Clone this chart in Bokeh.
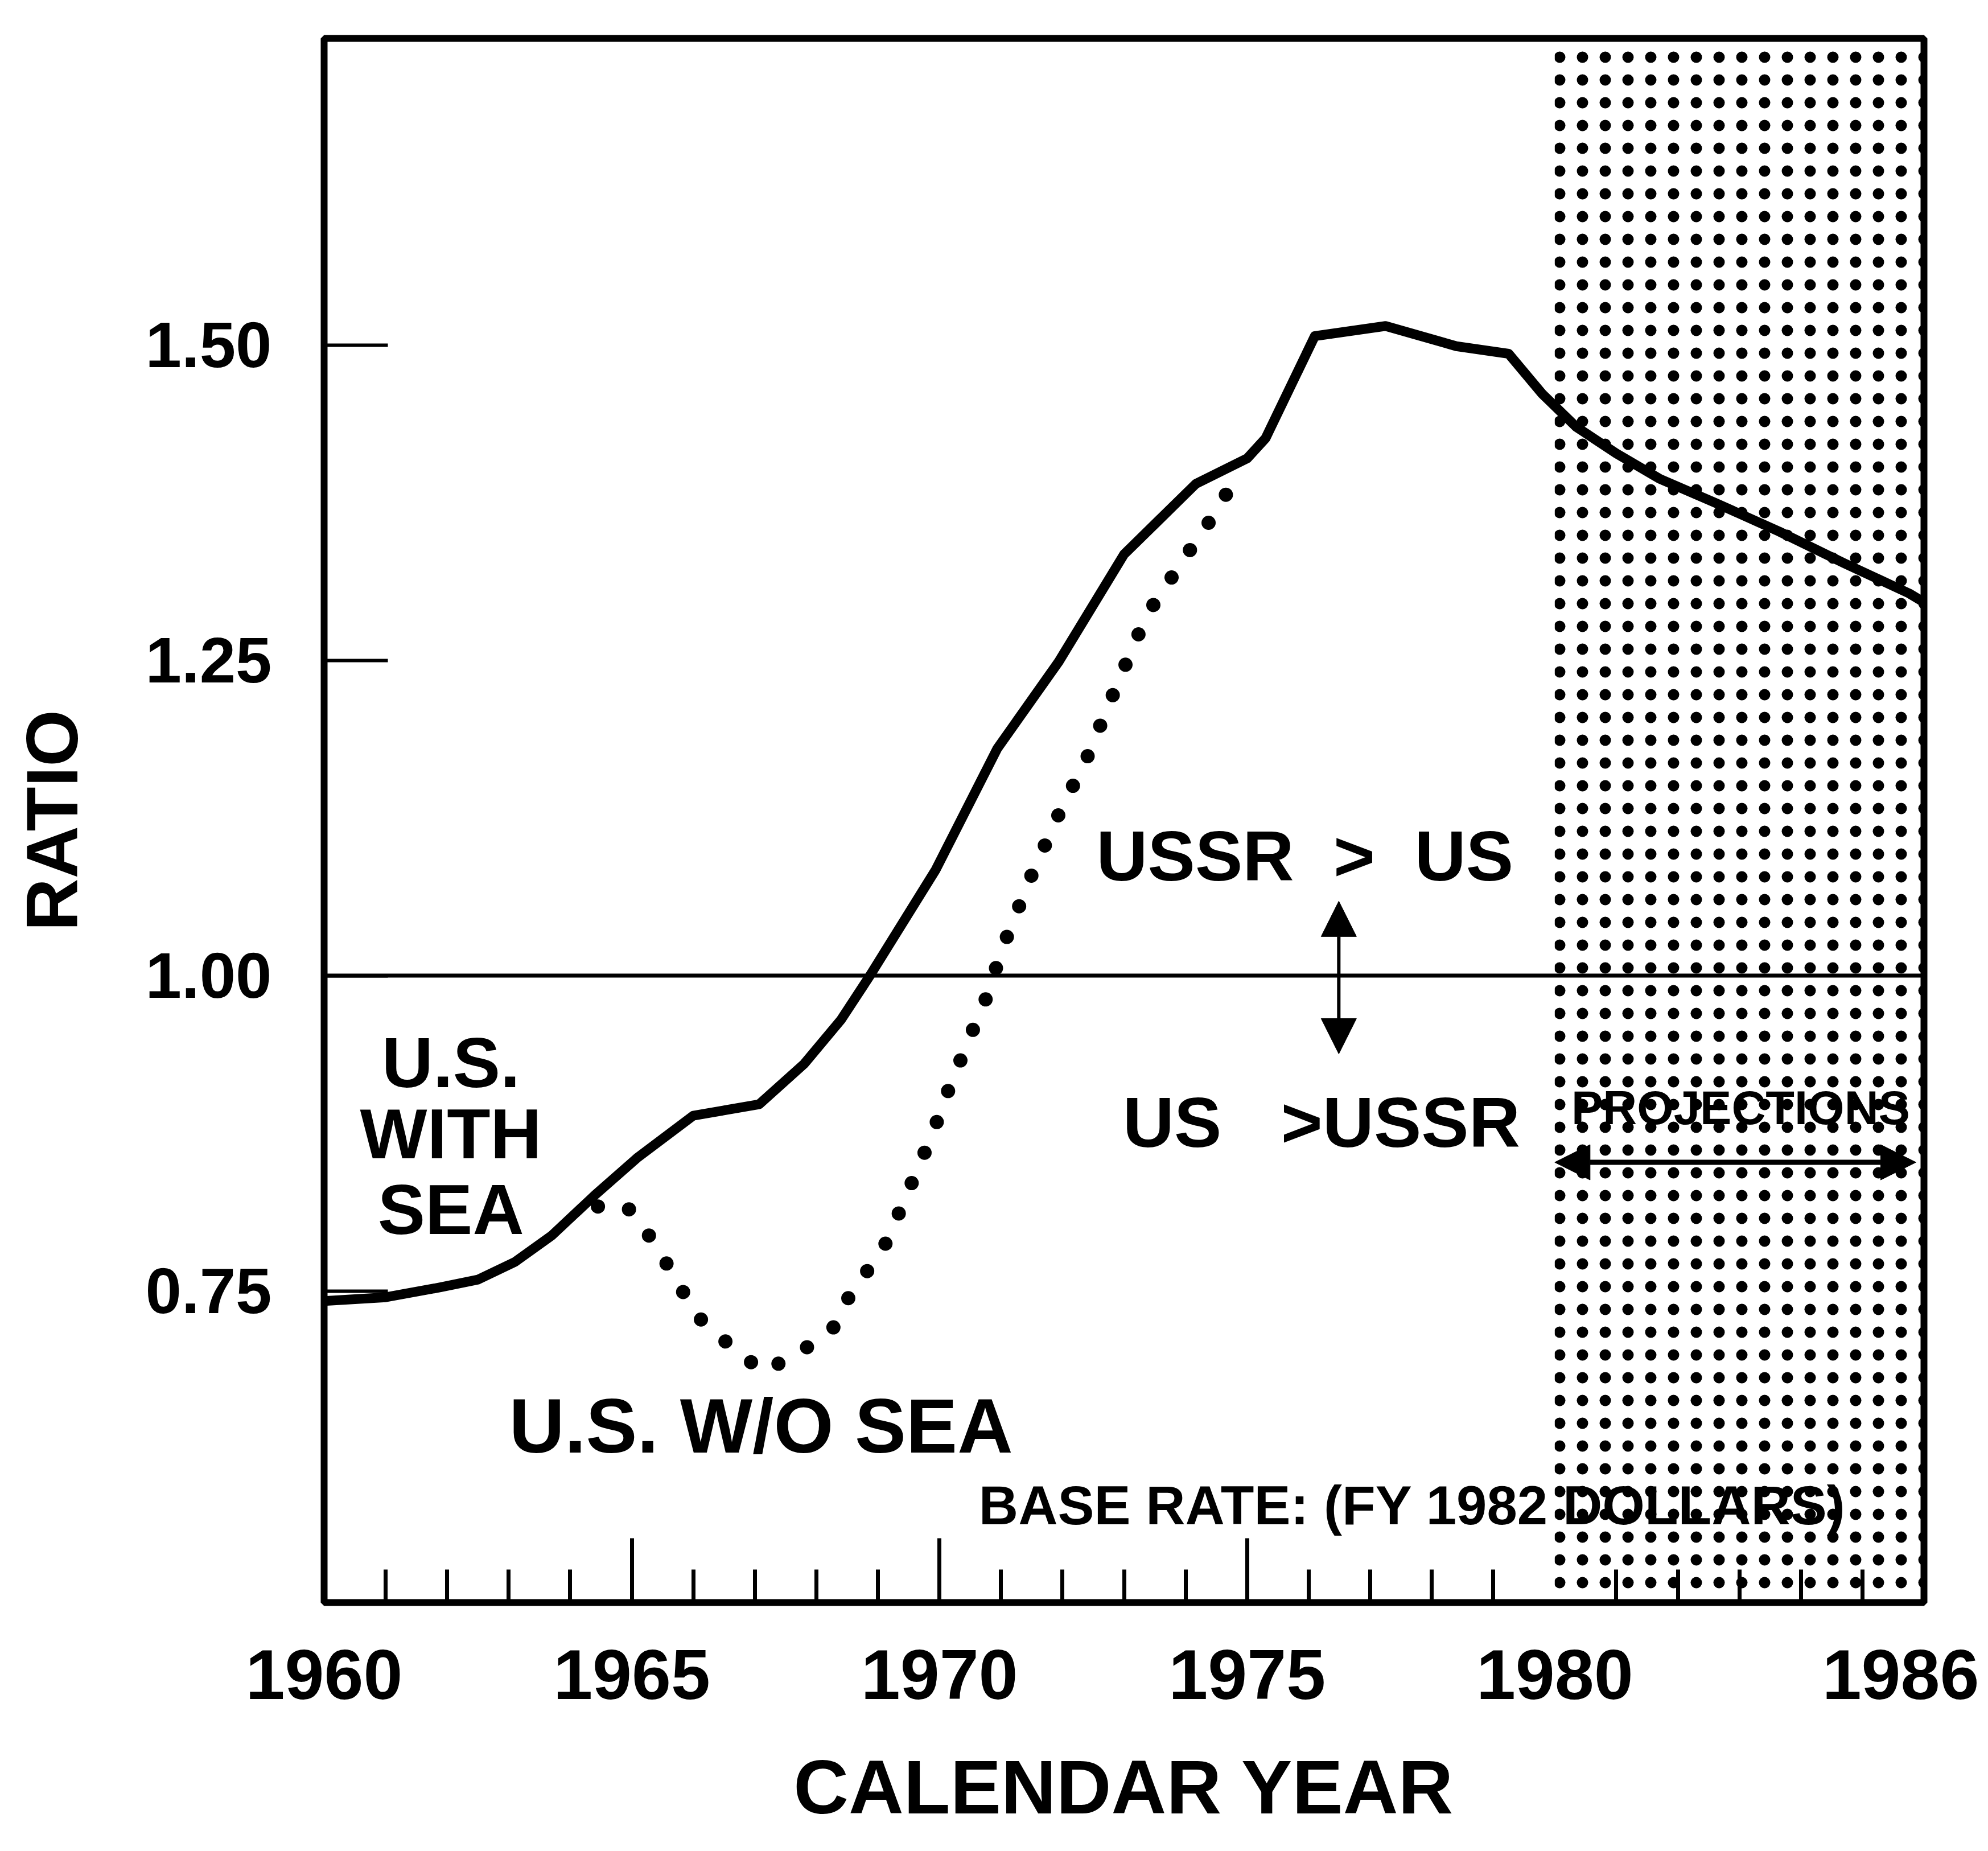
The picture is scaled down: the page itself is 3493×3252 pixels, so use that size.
from bokeh.plotting import figure
from bokeh.models import (Range1d, FixedTicker, LinearAxis, Span, Arrow, NormalHead,
                          ColumnDataSource, NumeralTickFormatter)
from bokeh.core.properties import value
from bokeh.embed import file_html
from bokeh.resources import INLINE

# ---------------- data ----------------
years_with = [1960.0, 1961.0, 1961.9, 1962.5, 1963.1, 1963.7, 1964.4, 1965.1, 1966.0,
              1967.07, 1967.8, 1968.4, 1968.87, 1969.94, 1970.94, 1971.94, 1973.0,
              1974.17, 1975.0, 1975.3, 1976.1, 1977.25, 1978.4, 1979.25, 1979.8,
              1980.35, 1981.0, 1981.7, 1982.6, 1983.65, 1984.7, 1985.76, 1986.0]
ratio_with = [0.742, 0.745, 0.753, 0.759, 0.773, 0.794, 0.826, 0.856, 0.889,
              0.898, 0.930, 0.965, 1.000, 1.084, 1.180, 1.249, 1.334,
              1.390, 1.410, 1.426, 1.507, 1.515, 1.499, 1.493, 1.461,
              1.435, 1.414, 1.394, 1.375, 1.352, 1.327, 1.303, 1.296]

years_wo = [1964.45, 1964.9, 1965.2, 1965.5, 1965.76, 1966.0, 1966.3, 1966.8, 1967.1,
            1967.5, 1967.9, 1968.3, 1968.5, 1968.8, 1969.1, 1969.3, 1969.5, 1969.7,
            1969.9, 1970.07, 1970.26, 1970.45, 1970.8, 1971.0, 1971.5, 1971.94,
            1972.4, 1972.94, 1973.37, 1973.94, 1974.5, 1974.85]
ratio_wo = [0.817, 0.818, 0.800, 0.777, 0.756, 0.734, 0.718, 0.700, 0.686,
            0.695, 0.707, 0.722, 0.743, 0.764, 0.785, 0.807, 0.830, 0.853,
            0.876, 0.900, 0.923, 0.946, 0.987, 1.019, 1.080, 1.128,
            1.173, 1.237, 1.286, 1.328, 1.368, 1.398]

x_label_years = [1960, 1965, 1970, 1975, 1980, 1986]
major_tick_years = [1965, 1970, 1975]
minor_tick_years = [1961, 1962, 1963, 1964, 1966, 1967, 1968, 1969, 1971, 1972, 1973,
                    1974, 1976, 1977, 1978, 1979, 1981, 1982, 1983, 1984, 1985]
y_ticks = [0.75, 1.00, 1.25, 1.50]

x_min, x_max = 1960, 1986
y_min, y_max = 0.503, 1.743
projection_start, projection_end = 1980, 1986
parity = 1.0

# annotation texts
NB = "\u00a0"
side_label = ["U.S.", "WITH", "SEA"]
side_label_y = [0.931, 0.875, 0.815]
side_label_x = 1962.06
wo_label = "U.S. W/O SEA"
wo_label_pos = (1967.1, 0.643)
ussr_gt = "USSR" + NB + NB + ">" + NB + NB + "US"
ussr_gt_pos = (1972.55, 1.095)
us_gt = "US" + NB + NB + NB + ">USSR"
us_gt_pos = (1972.98, 0.884)
proj_label = "PROJECTIONS"
proj_label_pos = (1980.27, 0.895)
proj_arrow_y = 0.852
base_label = "BASE RATE: (FY 1982 DOLLARS)"
base_label_pos = (1970.64, 0.580)
vert_arrow_x = 1976.49
vert_arrow_y = (1.059, 0.938)

FONT = "Liberation Sans"

# ---------------- figure ----------------
p = figure(width=3477, height=3236,
           x_range=Range1d(x_min, x_max), y_range=Range1d(y_min, y_max),
           output_backend="svg", toolbar_location=None,
           min_border_left=569, min_border_right=97,
           min_border_top=67, min_border_bottom=421,
           background_fill_color="white", border_fill_color="white")
p.grid.visible = False
p.outline_line_color = "black"
p.outline_line_width = 12

# x axis (ticks only)
xa = p.xaxis[0]
xa.ticker = FixedTicker(ticks=major_tick_years, minor_ticks=minor_tick_years)
xa.major_tick_in = 113
xa.major_tick_out = 0
xa.minor_tick_in = 58
xa.minor_tick_out = 0
xa.major_tick_line_width = 7
xa.minor_tick_line_width = 7
xa.major_tick_line_color = "black"
xa.minor_tick_line_color = "black"
xa.axis_line_color = None
xa.major_label_text_font_size = "0px"
xa.major_label_standoff = 0

# x axis (labels)
xl = LinearAxis(ticker=FixedTicker(ticks=x_label_years, minor_ticks=[]))
xl.major_tick_in = 0
xl.major_tick_out = 0
xl.minor_tick_in = 0
xl.minor_tick_out = 0
xl.axis_line_color = None
xl.major_label_standoff = 83
xl.major_label_text_font = FONT
xl.major_label_text_font_style = "bold"
xl.major_label_text_font_size = "124px"
xl.major_label_text_color = "black"
xl.axis_label = "CALENDAR YEAR"
xl.axis_label_standoff = 77
xl.axis_label_text_font = FONT
xl.axis_label_text_font_style = "bold"
xl.axis_label_text_font_size = "134px"
xl.axis_label_text_color = "black"
p.add_layout(xl, "below")

# y axis
ya = p.yaxis[0]
ya.ticker = FixedTicker(ticks=y_ticks, minor_ticks=[])
ya.formatter = NumeralTickFormatter(format="0.00")
ya.major_tick_in = 112
ya.major_tick_out = 0
ya.major_tick_line_width = 6
ya.major_tick_line_color = "black"
ya.axis_line_color = None
ya.major_label_standoff = 92
ya.major_label_text_font = FONT
ya.major_label_text_font_style = "bold"
ya.major_label_text_font_size = "114px"
ya.major_label_text_color = "black"
ya.axis_label = "RATIO"
ya.axis_label_standoff = 90
ya.axis_label_text_font = FONT
ya.axis_label_text_font_style = "bold"
ya.axis_label_text_font_size = "128px"
ya.axis_label_text_color = "black"

# projection stipple
p.quad(left=[projection_start], right=[projection_end], bottom=[y_min], top=[y_max],
       fill_color=None, line_color=None,
       hatch_pattern="dot", hatch_scale=40, hatch_weight=3, hatch_color="black")

# parity line
p.add_layout(Span(location=parity, dimension="width", line_color="black", line_width=7))

# curves
p.line(years_wo, ratio_wo, line_color="black", line_width=25,
       line_dash="0 58", line_cap="round")
p.line(years_with, ratio_with, line_color="black", line_width=17, line_join="round")

# texts
def txt(xs, ys, texts, size, align="left"):
    src = ColumnDataSource(dict(x=xs, y=ys, t=texts))
    p.text(x="x", y="y", text="t", source=src, text_font=value(FONT),
           text_font_style="bold", text_font_size=size, text_color="black",
           text_align=align, text_baseline="middle")

txt([side_label_x] * 3, side_label_y, side_label, "125px", "center")
txt([wo_label_pos[0]], [wo_label_pos[1]], [wo_label], "135px", "center")
txt([ussr_gt_pos[0]], [ussr_gt_pos[1]], [ussr_gt], "125px")
txt([us_gt_pos[0]], [us_gt_pos[1]], [us_gt], "125px")
txt([proj_label_pos[0]], [proj_label_pos[1]], [proj_label], "83px")
txt([base_label_pos[0]], [base_label_pos[1]], [base_label], "96px")

# arrows
p.add_layout(Arrow(start=NormalHead(size=62, fill_color="black", line_color="black"),
                   end=NormalHead(size=62, fill_color="black", line_color="black"),
                   x_start=vert_arrow_x, y_start=vert_arrow_y[0],
                   x_end=vert_arrow_x, y_end=vert_arrow_y[1],
                   line_width=6, line_color="black"))
p.add_layout(Arrow(start=NormalHead(size=62, fill_color="black", line_color="black"),
                   end=NormalHead(size=62, fill_color="black", line_color="black"),
                   x_start=projection_start, y_start=proj_arrow_y,
                   x_end=x_max - 0.13, y_end=proj_arrow_y,
                   line_width=9, line_color="black"))

open("out.html", "w").write(file_html(p, INLINE))
